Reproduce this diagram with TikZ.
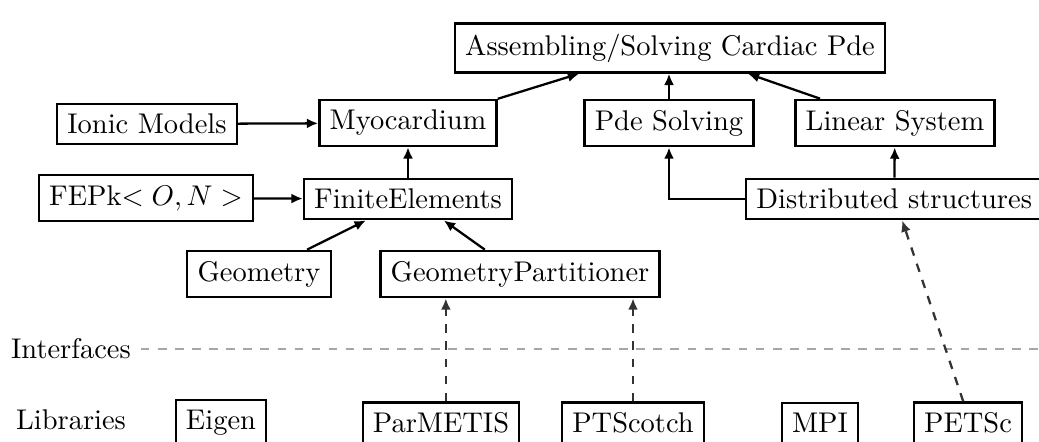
\documentclass[tikz,border=0pt]{standalone}
\usepackage{amsmath,amssymb}
\usepackage{tikz}
\usetikzlibrary{arrows.meta, calc}

\begin{document}
\begin{tikzpicture}[x=0.01234cm, y=-0.01234cm,
  box/.style={draw, thick, fill=white, inner sep=3.6pt},
  link/.style={thick, -{Latex[length=4pt, width=3.5pt]}},
  dep/.style={thick, dashed, -{Latex[length=4pt, width=3.5pt]}, black!80},
  layer/.style={thick, dashed, gray!70}]
\useasboundingbox (0,0) rectangle (1039,442);
\node[box] (asm) at (670,48) {Assembling/Solving Cardiac Pde};
\node[box] (ionic) at (147,124) {Ionic Models};
\node[box] (myo) at (408,123) {Myocardium};
\node[box] (pde) at (669,123) {Pde Solving};
\node[box] (linsys) at (895,123) {Linear System};
\node[box] (fepk) at (146,198) {FEPk$<O,N>$};
\node[box] (fe) at (408,199) {FiniteElements};
\node[box, anchor=west] (dist) at (745,199) {Distributed structures};
\node[box] (geo) at (259,274) {Geometry};
\node[box] (gpart) at (520,274) {GeometryPartitioner};
\node (interfaces) at (71,349) {Interfaces};
\node (libraries) at (71,420) {Libraries};
\coordinate (ifend) at (1045,347);
\foreach \name/\px/\txt in {eigen/221/Eigen, parmetis/441/ParMETIS, ptscotch/633/PTScotch, mpi/820/MPI, petsc/968/PETSc} {
\node[box] (\name) at (\px,423) {\txt};
}
\draw[layer] (interfaces.east) -- (interfaces.east -| ifend);
\draw[link] (ionic) -- (myo);
\draw[link] (fepk) -- (fe);
\draw[link] (fe) -- (myo);
\draw[link] (myo.north east) -- ($(asm.south west)!0.29!(asm.south east)$);
\draw[link] (pde) -- (pde |- asm.south);
\draw[link] (linsys.162) -- ($(asm.south west)!0.68!(asm.south east)$);
\draw[link] (dist) -- (linsys);
\draw[link] (dist.west) -| (pde.south);
\draw[link] ($(geo.north west)!0.83!(geo.north east)$) -- ($(fe.south west)!0.30!(fe.south east)$);
\draw[link] ($(gpart.north west)!0.375!(gpart.north east)$) -- ($(fe.south west)!0.67!(fe.south east)$);
\draw[dep] ([xshift=1.7pt]parmetis.north) -- ([xshift=1.7pt]parmetis.north |- gpart.south);
\draw[dep] (ptscotch.north) -- (ptscotch.north |- gpart.south);
\draw[dep] ([xshift=-1.7pt]petsc.north) -- ([xshift=2.8pt]dist.south);
\end{tikzpicture}
\end{document}
